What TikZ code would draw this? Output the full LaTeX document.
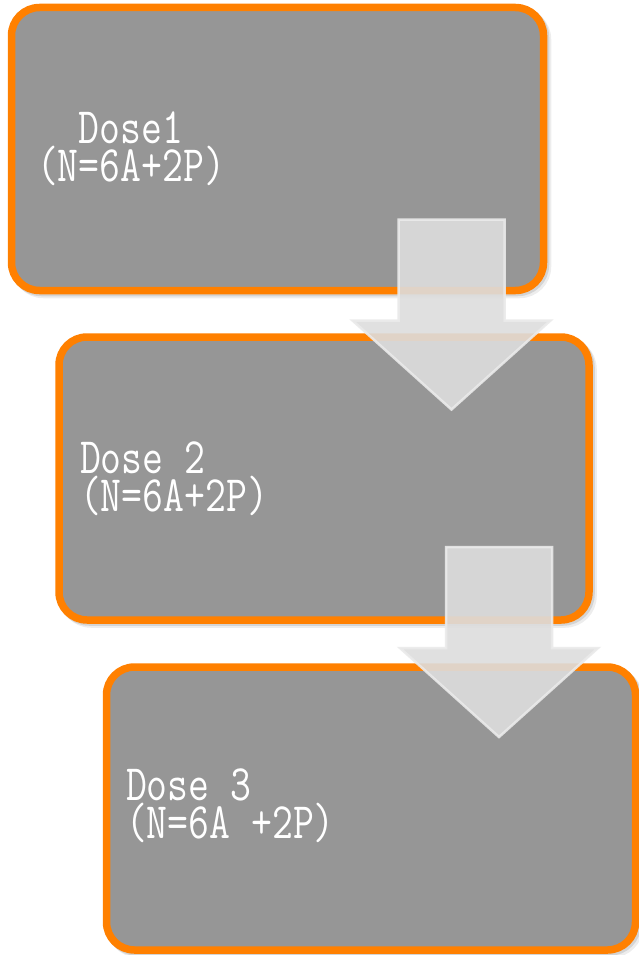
\documentclass[tikz,border=0pt]{standalone}
\usetikzlibrary{calc,backgrounds}
\definecolor{boxgray}{RGB}{150,150,150}
\definecolor{boxorange}{RGB}{255,128,0}
\definecolor{arrowfill}{RGB}{221,221,221}
\definecolor{arrowedge}{RGB}{234,234,234}
% two lines of condensed monospaced serif text; the box sits on the last baseline
\newcommand{\doselines}[2]{\scalebox{0.795}[1]{\ttfamily\fontsize{51}{38.5}\selectfont
  \lineskiplimit=-100pt\relax
  \vbox{\hbox{#1}\hbox{#2}}}}
\tikzset{
  dosebox/.style={draw=boxorange, line width=7.5pt, fill=boxgray,
    rounded corners=28pt, inner sep=0pt, outer sep=0pt, anchor=north west},
  doseshadow/.style={draw=black, line width=7.5pt, rounded corners=28pt},
  doselabel/.style={anchor=base west, inner sep=0pt, outer sep=0pt, text=white},
  blockarrow/.style={fill=arrowfill, fill opacity=0.9, draw=arrowedge,
    draw opacity=0.9, line width=2.5pt, line join=miter}
}
\begin{document}
\begin{tikzpicture}[x=1pt,y=-1pt]
\useasboundingbox (0,0) rectangle (638,955);

% the three dose boxes
\node[dosebox, minimum width=532pt, minimum height=283pt] (b1) at (11.5,7.5) {};
\node[dosebox, minimum width=530pt, minimum height=283pt] (b2) at (59,337) {};
\node[dosebox, minimum width=529pt, minimum height=283pt] (b3) at (106.5,667) {};

% white page and soft shadows behind the boxes
\begin{scope}[on background layer]
  \fill[white] (0,0) rectangle (638,955);
  \foreach \b in {b1,b2,b3} {
    \draw[doseshadow, draw opacity=0.07, transform canvas={shift={(4pt,-4pt)}}]
      (\b.north west) rectangle (\b.south east);
    \draw[doseshadow, draw opacity=0.10, transform canvas={shift={(2pt,-2pt)}}]
      (\b.north west) rectangle (\b.south east);
  }
\end{scope}

% labels
\node[doselabel] (t1) at ($(b1.north west)+(25.5,174)$) {\doselines{~~Dose1}{(N=6A+2P)}};
\node[doselabel] (t2) at ($(b2.north west)+(21,174.5)$) {\doselines{Dose 2}{(N=6A+2P)}};
\node[doselabel] (t3) at ($(b3.north west)+(19.5,171.5)$) {\doselines{Dose 3}{(N=6A +2P)}};

% block arrows from one box to the next
\coordinate (a1) at ($(b1.south east)+(-92,-71)$);
\coordinate (a2) at ($(b2.south east)+(-90,-73)$);
\foreach \a in {a1,a2} {
  \draw[blockarrow]
    ($(\a)+(-53,0)$) -- ($(\a)+(53,0)$) -- ($(\a)+(53,101)$) --
    ($(\a)+(99,101)$) -- ($(\a)+(0,190)$) -- ($(\a)+(-99,101)$) --
    ($(\a)+(-53,101)$) -- cycle;
}
\end{tikzpicture}
\end{document}
